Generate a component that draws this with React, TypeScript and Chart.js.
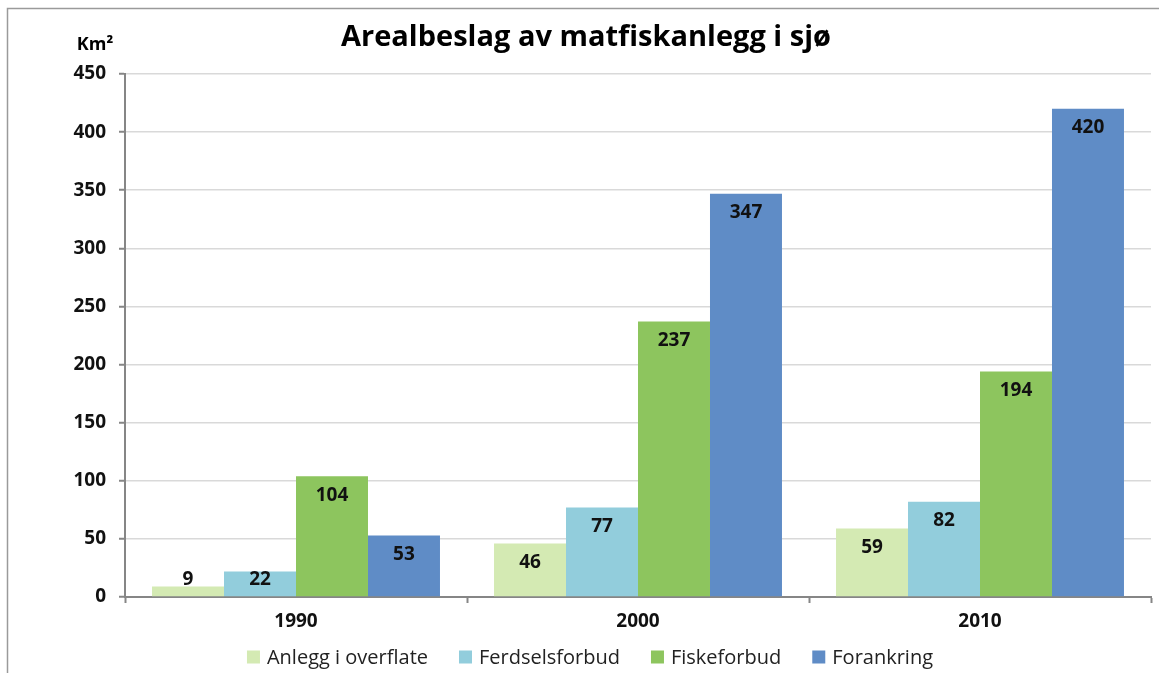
import React, { useEffect, useRef } from "react";
import { Chart, registerables } from "chart.js";

Chart.register(...registerables);

const categories = ["1990", "2000", "2010"];
const seriesNames = ["Anlegg i overflate", "Ferdselsforbud", "Fiskeforbud", "Forankring"];
const anlegg = [9, 46, 59];
const ferdsel = [22, 77, 82];
const fiske = [104, 237, 194];
const forankring = [53, 347, 420];
const colors = ["#D4EAB3", "#92CDDC", "#8DC55E", "#5F8CC6"];
const titleText = "Arealbeslag av matfiskanlegg i sjø";
const unitText = "Km²";

const FONT = "'Open Sans', 'Noto Sans', sans-serif";

const extras = {
  id: "extras",
  beforeDraw(chart: any) {
    const ctx = chart.ctx;
    ctx.save();
    ctx.fillStyle = "#ffffff";
    ctx.fillRect(0, 0, chart.width, chart.height);
    ctx.strokeStyle = "#9a9a9a";
    ctx.lineWidth = 1.5;
    ctx.beginPath();
    ctx.moveTo(7.5, chart.height);
    ctx.lineTo(7.5, 8.5);
    ctx.lineTo(chart.width, 8.5);
    ctx.stroke();
    ctx.restore();
  },
  afterDraw(chart: any) {
    const ctx = chart.ctx;
    ctx.save();
    ctx.fillStyle = "#000";
    ctx.textAlign = "center";
    ctx.textBaseline = "middle";
    ctx.font = `bold 29px ${FONT}`;
    ctx.fillText(titleText, 586, 38);
    ctx.font = `bold 18px ${FONT}`;
    ctx.fillText(unitText, 95, 45);

    // legend
    const box = 13;
    const gapBoxText = 7;
    const gapItems = 31;
    ctx.font = `20px ${FONT}`;
    const widths = chart.data.datasets.map((d: any) => ctx.measureText(d.label).width);
    const total =
      widths.reduce((a: number, w: number) => a + w + box + gapBoxText, 0) +
      gapItems * (widths.length - 1);
    let x = 590 - total / 2;
    const cy = 657;
    ctx.textAlign = "left";
    chart.data.datasets.forEach((d: any, i: number) => {
      ctx.fillStyle = d.backgroundColor;
      ctx.fillRect(x, cy - box / 2, box, box);
      x += box + gapBoxText;
      ctx.fillStyle = "#222";
      ctx.fillText(d.label, x, cy + 1);
      x += widths[i] + gapItems;
    });
    ctx.restore();
  },
  afterDatasetsDraw(chart: any) {
    const ctx = chart.ctx;
    ctx.save();
    ctx.fillStyle = "#111";
    ctx.textAlign = "center";
    ctx.textBaseline = "middle";
    ctx.font = `bold 19px ${FONT}`;
    chart.data.datasets.forEach((ds: any, i: number) => {
      const meta = chart.getDatasetMeta(i);
      meta.data.forEach((el: any, j: number) => {
        const y = Math.min(el.y + 19, el.base - 17);
        ctx.fillText(String(ds.data[j]), el.x, y);
      });
    });
    ctx.restore();
  },
};

export default function App() {
  const ref = useRef<HTMLCanvasElement | null>(null);
  useEffect(() => {
    document.body.style.margin = "0";
    const series = [anlegg, ferdsel, fiske, forankring];
    const chart = new Chart(ref.current!, {
      type: "bar",
      data: {
        labels: categories,
        datasets: series.map((d, i) => ({
          label: seriesNames[i],
          data: d,
          backgroundColor: colors[i],
          borderWidth: 0,
          categoryPercentage: 0.842,
          barPercentage: 1,
        })),
      },
      options: {
        animation: false,
        responsive: false,
        devicePixelRatio: 1,
        layout: { padding: { left: 0, right: 8, top: 74, bottom: 36 } },
        plugins: {
          title: { display: false },
          tooltip: { enabled: false },
          legend: { display: false },
        },
        scales: {
          x: {
            afterFit(scale: any) {
              scale.height = 40;
            },
            grid: {
              offset: true,
              drawOnChartArea: false,
              drawTicks: true,
              tickLength: 6,
              tickColor: "#868686",
              tickWidth: 2,
            },
            border: { color: "#868686", width: 2 },
            ticks: {
              padding: 7,
              color: "#111",
              font: { family: FONT, size: 19, weight: "bold" },
            },
          },
          y: {
            min: 0,
            max: 450,
            afterFit(scale: any) {
              scale.width = 125;
            },
            grid: {
              color: "#D9D9D9",
              lineWidth: 1.5,
              tickLength: 6,
              tickColor: "#868686",
              tickWidth: 2,
            },
            border: { color: "#868686", width: 2 },
            ticks: {
              stepSize: 50,
              padding: 13,
              color: "#111",
              font: { family: FONT, size: 19, weight: "bold" },
            },
          },
        },
      },
      plugins: [extras],
    });
    return () => chart.destroy();
  }, []);
  return (
    <div style={{ position: "fixed", left: 0, top: 0, width: 1159, height: 673, background: "#fff" }}>
      <canvas ref={ref} width={1159} height={673} style={{ width: 1159, height: 673 }} />
    </div>
  );
}
